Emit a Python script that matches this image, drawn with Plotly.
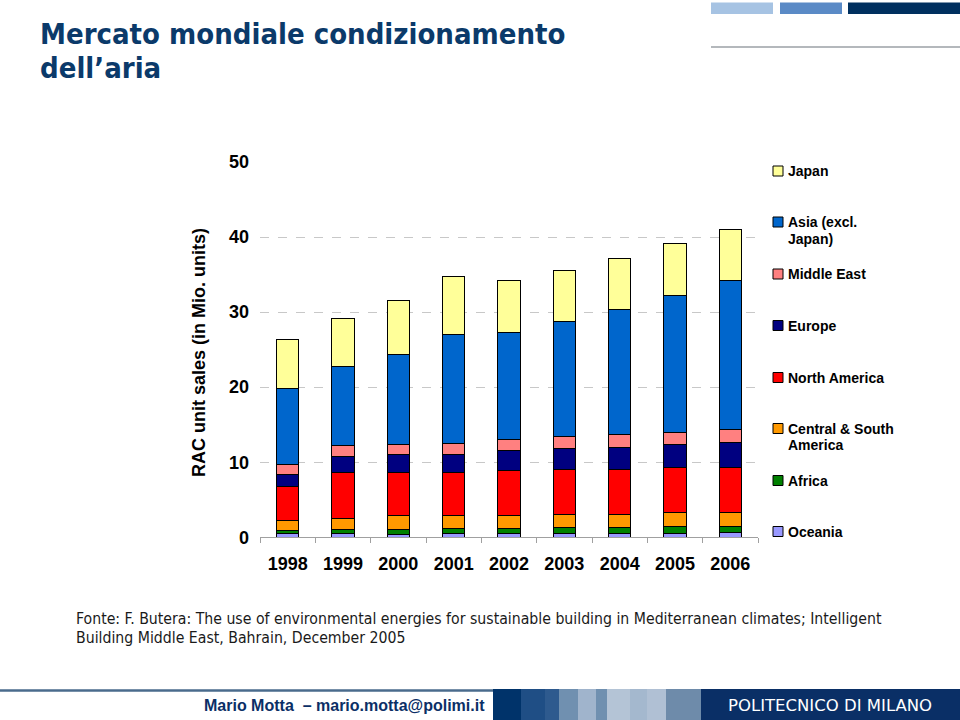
import plotly.graph_objects as go

# ---------------- data ----------------
years = ["1998", "1999", "2000", "2001", "2002", "2003", "2004", "2005", "2006"]
oceania = [0.45, 0.45, 0.40, 0.45, 0.53, 0.53, 0.53, 0.57, 0.62]
africa = [0.45, 0.55, 0.60, 0.70, 0.67, 0.77, 0.81, 0.81, 0.85]
central_south_america = [1.40, 1.50, 1.95, 1.75, 1.65, 1.70, 1.76, 1.87, 1.88]
north_america = [4.50, 6.10, 5.65, 5.70, 6.05, 6.00, 6.00, 6.00, 5.95]
europe = [1.55, 2.20, 2.40, 2.40, 2.70, 2.80, 2.90, 3.05, 3.30]
middle_east = [1.35, 1.40, 1.40, 1.50, 1.40, 1.60, 1.70, 1.70, 1.70]
asia_excl_japan = [10.1, 10.5, 12.0, 14.5, 14.3, 15.4, 16.7, 18.2, 19.9]
japan = [6.6, 6.5, 7.1, 7.7, 6.9, 6.8, 6.8, 6.9, 6.8]
y_ticks = [0, 10, 20, 30, 40, 50]

series_names = ["Oceania", "Africa", "Central & South America", "North America",
                "Europe", "Middle East", "Asia (excl. Japan)", "Japan"]
series_values = [oceania, africa, central_south_america, north_america,
                 europe, middle_east, asia_excl_japan, japan]
series_colors = ["#9999FF", "#008000", "#FF9900", "#FF0000",
                 "#000080", "#FF8080", "#0066CC", "#FFFF99"]

# legend (top to bottom) with line breaks as in the reference
legend_items = [
    ("Japan", ["Japan"], "#FFFF99", 171),
    ("Asia", ["Asia (excl.", "Japan)"], "#0066CC", 222),
    ("ME", ["Middle East"], "#FF8080", 274),
    ("EU", ["Europe"], "#000080", 325.5),
    ("NA", ["North America"], "#FF0000", 377.5),
    ("CSA", ["Central & South", "America"], "#FF9900", 428.5),
    ("AF", ["Africa"], "#008000", 480.5),
    ("OC", ["Oceania"], "#9999FF", 531.5),
]

W, H = 960, 720
PAD = 10  # extra figure height above and below the design area


def px(x):
    return x / W


def py(y):
    return 1 - y / H


fig = go.Figure()
for name, vals, col in zip(series_names, series_values, series_colors):
    fig.add_trace(go.Bar(
        x=years, y=vals, name=name,
        marker=dict(color=col, line=dict(color="#000000", width=1)),
        showlegend=False, hoverinfo="skip",
    ))

shapes = []
annotations = []

# legend drawn manually
for key, lines, col, yc in legend_items:
    shapes.append(dict(type="rect", xref="paper", yref="paper",
                       x0=px(773), x1=px(783), y0=py(yc + 5), y1=py(yc - 5),
                       fillcolor=col, line=dict(color="#000000", width=1)))
    for i, t in enumerate(lines):
        annotations.append(dict(text="<b>%s</b>" % t, xref="paper", yref="paper",
                                x=px(786), y=py(yc + i * 16.5), xanchor="left",
                                yanchor="middle", showarrow=False,
                                font=dict(family="Liberation Sans, Arial", size=14,
                                          color="#000000")))

# y-axis title
annotations.append(dict(text="<b>RAC unit sales (in Mio. units)</b>", xref="paper",
                        yref="paper", x=px(199), y=py(353), textangle=-90,
                        xanchor="center", yanchor="middle", showarrow=False,
                        font=dict(family="Liberation Sans, Arial", size=18,
                                  color="#000000")))

# slide title
title_font = dict(family="DejaVu Sans Condensed, DejaVu Sans", size=29, color="#0B3A6A")
annotations.append(dict(text="<b>Mercato mondiale condizionamento</b>", xref="paper",
                        yref="paper", x=px(38), y=py(34), xanchor="left",
                        yanchor="middle", showarrow=False, font=title_font))
annotations.append(dict(text="<b>dell’aria</b>", xref="paper",
                        yref="paper", x=px(38), y=py(68), xanchor="left",
                        yanchor="middle", showarrow=False, font=title_font))

# source
src_font = dict(family="Liberation Sans Narrow, DejaVu Sans Condensed", size=15.7,
                color="#1A1A1A")
annotations.append(dict(
    text="Fonte: F. Butera: The use of environmental energies for sustainable building in Mediterranean climates; Intelligent",
    xref="paper", yref="paper", x=px(74), y=py(618), xanchor="left", yanchor="middle",
    showarrow=False, font=src_font))
annotations.append(dict(
    text="Building Middle East, Bahrain, December 2005",
    xref="paper", yref="paper", x=px(74), y=py(637), xanchor="left", yanchor="middle",
    showarrow=False, font=src_font))

# top-right decoration
for x0, x1, c in [(711, 773, "#A6C3E3"), (780, 842, "#5A8AC6"), (848, 960, "#00305F")]:
    shapes.append(dict(type="rect", xref="paper", yref="paper", x0=px(x0), x1=px(x1),
                       y0=py(14), y1=py(2.5), fillcolor=c, line=dict(width=0)))
shapes.append(dict(type="line", xref="paper", yref="paper", x0=px(711), x1=px(960),
                   y0=py(47), y1=py(47), line=dict(color="#B4B8BC", width=2)))

# bottom banner
shapes.append(dict(type="line", xref="paper", yref="paper", x0=px(0), x1=px(494),
                   y0=py(690.5), y1=py(690.5), line=dict(color="#4A6B8C", width=2.5)))
stripes = [(493, 521, "#00336A"), (521, 545, "#1F4E85"), (545, 559, "#2E5A8E"),
           (559, 578, "#7090B0"), (578, 596, "#A0B4CC"), (596, 607, "#7090B0"),
           (607, 630, "#B4C4D6"), (630, 647, "#A4B8CE"), (647, 666, "#B0C0D4"),
           (666, 701, "#6E8BAA"), (701, 960, "#0A2F66")]
for x0, x1, c in stripes:
    shapes.append(dict(type="rect", xref="paper", yref="paper", x0=px(x0), x1=px(x1),
                       y0=py(720), y1=py(689), fillcolor=c, line=dict(width=0)))
annotations.append(dict(text="<b>Mario Motta  – mario.motta@polimi.it</b>", xref="paper",
                        yref="paper", x=px(487), y=py(705), xanchor="right",
                        yanchor="middle", showarrow=False,
                        font=dict(family="Liberation Sans, Arial", size=16,
                                  color="#0B2F66")))
annotations.append(dict(text="POLITECNICO DI MILANO", xref="paper",
                        yref="paper", x=px(830), y=py(705), xanchor="center",
                        yanchor="middle", showarrow=False,
                        font=dict(family="DejaVu Sans", size=16.5, color="#FFFFFF")))

fig.update_layout(
    width=W, height=H + 2 * PAD,
    margin=dict(l=0, r=0, t=PAD, b=PAD),
    paper_bgcolor="#FFFFFF", plot_bgcolor="#FFFFFF",
    barmode="stack", bargap=0.6,
    shapes=shapes, annotations=annotations,
    showlegend=False, hovermode=False,
    xaxis=dict(domain=[px(260), px(758)], type="category",
               showgrid=False, showline=True, linecolor="#A0A0A0", linewidth=1,
               ticks="outside", tickson="boundaries", ticklen=5, tickcolor="#A0A0A0",
               ticklabelstandoff=10,
               tickfont=dict(family="Liberation Sans, Arial", size=18, color="#000000",
                             weight="bold")),
    yaxis=dict(domain=[1 - 537.3 / H, 1 - 162 / H], range=[0, 50],
               tickvals=y_ticks, ticktext=[str(v) for v in y_ticks],
               showgrid=True, gridcolor="#C8C8C8", griddash="dash", gridwidth=1,
               zeroline=False, showline=False, ticks="", ticklabelstandoff=10,
               tickfont=dict(family="Liberation Sans, Arial", size=18, color="#000000",
                             weight="bold")),
)

post = (
    "var gd=document.getElementById('{plot_id}');"
    "document.documentElement.style.margin='0';document.body.style.margin='0';"
    "document.documentElement.style.overflow='hidden';document.body.style.overflow='hidden';"
    "gd.style.position='fixed';gd.style.left='0px';gd.style.top='-10px';"
)

fig.write_html("out.html", config={"displayModeBar": False, "staticPlot": True},
               post_script=post)
